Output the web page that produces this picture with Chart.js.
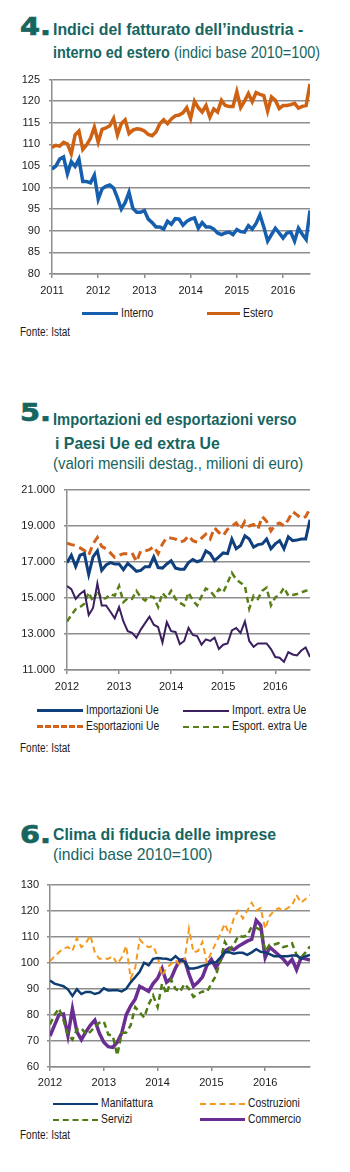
<!DOCTYPE html>
<html lang="it">
<head>
<meta charset="UTF-8">
<title>Congiuntura - grafici 4-6</title>
<script src="https://cdn.jsdelivr.net/npm/chart.js"></script>
<style>
  body { margin:0; width:350px; height:1172px; background:#fff; position:relative; overflow:hidden;
         font-family:"Liberation Sans",Arial,sans-serif; color:#1a1a1a; }
  .num { position:absolute; left:20px; font-family:"DejaVu Sans",sans-serif; font-weight:bold; font-size:24px;
         color:#17655f; transform:scaleX(1.2); transform-origin:0 0; -webkit-text-stroke:0.7px #17655f; }
  .tit { position:absolute; left:53px; font-size:17px; font-weight:bold; color:#17655f; white-space:nowrap;
         transform-origin:0 0; }
  .tit .reg { font-weight:normal; }
  canvas { position:absolute; left:0; }
  .leg { position:absolute; height:16px; line-height:16px; font-size:12.5px; white-space:nowrap; }
  .leg i { display:inline-block; vertical-align:middle; margin-right:3px; }
  .leg span { display:inline-block; transform:scaleX(0.83); transform-origin:0 50%; }
  .fonte { position:absolute; left:20px; font-size:12.5px; transform:scaleX(0.8); transform-origin:0 0; }
</style>
</head>
<body>
  <!-- 4 -->
  <div class="num" style="top:13px">4.</div>
  <div class="tit" data-w="250" style="top:20px">Indici del fatturato dell’industria -</div>
  <div class="tit" data-w="267" style="top:43px">interno ed estero <span class="reg">(indici base 2010=100)</span></div>
  <canvas id="c4" width="320" height="236" style="top:64px"></canvas>
  <div id="leg4"></div>
  <div class="fonte" style="top:325px">Fonte: Istat</div>

  <!-- 5 -->
  <div class="num" style="top:399px">5.</div>
  <div class="tit" data-w="244" style="top:410px">Importazioni ed esportazioni verso</div>
  <div class="tit" data-w="165" style="top:434px; left:55px">i Paesi Ue ed extra Ue</div>
  <div class="tit" data-w="250" style="top:454px"><span class="reg">(valori mensili destag., milioni di euro)</span></div>
  <canvas id="c5" width="320" height="222" style="top:474px"></canvas>
  <div id="leg5"></div>
  <div class="fonte" style="top:741px">Fonte: Istat</div>

  <!-- 6 -->
  <div class="num" style="top:821px">6.</div>
  <div class="tit" data-w="223" style="top:825px">Clima di fiducia delle imprese</div>
  <div class="tit" data-w="159" style="top:845px"><span class="reg">(indici base 2010=100)</span></div>
  <canvas id="c6" width="320" height="222" style="top:870px"></canvas>
  <div id="leg6"></div>
  <div class="fonte" style="top:1128px">Fonte: Istat</div>

<script>
// --- grafico 4: fatturato industria (mensile, gen 2011 - ago 2016)
const anni4 = ['2011', '2012', '2013', '2014', '2015', '2016'];
const interno = [104.3,105,106.6,107.1,103.2,106,104.9,106.6,101.4,101.4,101.1,102.9,
  97.3,99.7,100.3,100.6,99.9,97.6,95,96.5,98.9,95.2,94.3,94.3,
  94.7,92.7,91.9,90.9,90.9,90.4,92.2,91.5,92.8,92.7,91.3,92.2,
  92.7,93,90.6,91.9,90.9,90.9,90.4,89.5,89.1,89.5,89.7,89.1,
  90.3,89.8,89.7,91.2,90.4,91.7,93.7,90.9,87.6,89.1,90.6,89.5,
  88.3,89.5,89.7,87.6,90.6,89.2,88,94.7];
const estero = [109.3,109.8,109.6,110.5,110.1,107.8,112.2,113.1,108.8,109.9,111.4,114,
  110.5,113.5,113.8,114.3,116,112.2,114.8,115.7,112.5,113.3,113.6,113.5,
  113.1,112.3,112,112.9,114.8,115.7,114.8,115.9,116.6,116.8,117.3,118.5,
  116,120,118.5,117.5,119,116.3,118.2,117.5,120.2,119,118.8,118.8,
  122.2,118.5,120,121.8,119.9,122,121.6,121.3,117.7,121,120.2,118.3,
  119,119,119.2,119.5,118.4,118.8,119,124];

// --- grafico 5: scambi Ue / extra Ue (gen 2012 - set 2016)
const anni5 = ['2012', '2013', '2014', '2015', '2016'];
const importUe = [16950,17360,16730,17360,17450,16290,17270,17600,16520,16820,16950,16880,
  16880,16560,16910,16700,16470,16520,16730,16730,17270,16680,16650,16880,
  17060,16650,16590,16590,16950,17130,17000,17090,17600,17450,17060,17270,
  17490,17450,18260,17720,17900,18440,18260,17810,17950,17990,18260,17720,
  17990,18170,17720,18380,18170,18200,18260,18260,19330];
const exportUe = [18030,17950,17900,17770,17630,17360,17990,18350,17850,17720,17490,17240,
  17360,17450,17450,17490,17000,17600,17600,17670,17850,17450,17990,18350,
  18310,18260,18080,18170,18440,18170,18080,18310,18530,18260,18890,18620,
  18440,18800,18980,19150,18800,19240,18980,19060,18800,19510,19240,18710,
  19060,19150,18980,19330,19780,19600,19400,19500,19950];
const importExtra = [15660,15480,14940,15210,15390,14050,14440,15800,14580,14580,14230,13870,
  14490,13690,13150,13060,12790,13240,13600,13960,13510,13370,12520,13650,
  13150,13110,12430,12610,13330,12940,12880,12400,12700,12610,12790,12160,
  12400,12470,13190,13330,13060,13690,12610,12290,12470,12470,12470,12160,
  11720,11680,11450,11990,11860,11810,12080,12250,11720];
const exportExtra = [13690,14050,14370,14490,14670,15300,14800,15390,14940,14980,15210,15120,
  15660,14760,14980,14940,15390,15030,14850,15090,15030,14490,15270,14980,
  15390,14940,14730,14580,15300,14850,14580,15090,15520,15390,15090,15480,
  15300,15840,16380,16020,15840,15660,14400,15120,14940,15390,15570,14580,
  15030,15160,15570,15120,15160,15210,15300,15390,15440];

// --- grafico 6: clima di fiducia (gen 2012 - nov 2016)
const anni6 = ['2012', '2013', '2014', '2015', '2016'];
const manifattura = [93.2,92,91.5,91,89.8,87.3,89.8,88,88.8,88.8,88,88.5,
  90.2,89.4,89.5,89.5,89,90,92.5,94.5,96.5,100,99,101.5,
  101.8,101.6,101.5,101,102.5,101,100.5,97.8,97.8,98.2,98.8,99.3,
  100,100.2,102,104,104,103.5,103.8,103.8,103,104,105.2,104.2,
  104,103.3,102.5,102.5,102.5,102.5,102.8,102.8,101.5,102.5,103];
const costruzioni = [100.5,102.5,104,105.5,106,104.5,109.5,106,107.5,110.5,104,101.5,
  101.5,101.5,102.5,99.5,102,106.5,94,98,109,107,106,106.5,
  102.5,95,98,99.5,101,99,101,113,104,104.5,108,100,
  104,107.5,111,115,111,117,120,117,120,123,120,121,
  113,118,120,121,120,121,122,126,123,124.5,126];
const servizi = [76.3,80,82.5,78,72.5,70.5,74.4,75,72.5,73.5,75.5,77,
  77.5,72.5,72,64.5,73,73.2,76,83,81,79,84,87.5,
  83,92,88,93.5,90,88.8,91.9,90,86.9,88,89,88.8,
  92,95,101,108,105,107,110.3,110,110.5,113.8,113.5,112.5,
  104.4,106.9,107,107.5,106,106.5,107.5,103,102,104,106.3];
const commercio = [71.9,76,80,80.3,72,82.3,73.5,70.5,73.5,76,78,73,
  69.5,67.8,67.5,69.5,73,80,83.5,86,91,90,89,92,
  94,97.8,92.5,94,98,101,101.3,95.6,91,92.5,94.5,99,
  101.3,98.1,101,104.4,105.6,105,106.3,107.3,108.3,109,116.3,114.4,
  102,106,104.5,103,101.5,99.4,101.3,97.3,101.9,101.5,101];

Chart.defaults.font.family = '"Liberation Sans", Arial, sans-serif';
Chart.defaults.font.size = 11;
Chart.defaults.color = '#1a1a1a';

const GRID = '#8e8e8e';

// titoli: stringo il testo alla larghezza del carattere "narrow" originale
document.querySelectorAll('.tit[data-w]').forEach(el => {
  el.style.transform = 'scaleX(' + (el.dataset.w / el.offsetWidth) + ')';
});

function fmtMigliaia(v) {
  return Math.floor(v / 1000) + '.' + String(v % 1000).padStart(3, '0');
}

function disegna(id, serie, anni, s) {
  const n = serie[0].data.length;
  new Chart(document.getElementById(id), {
    type: 'line',
    data: {
      datasets: serie.map(d => ({
        label: d.label,
        data: d.data.map((v, i) => ({ x: i, y: v })),
        borderColor: d.color,
        borderWidth: d.width,
        borderDash: d.dash || [],
        pointRadius: 0,
        tension: 0,
        fill: false
      }))
    },
    options: {
      responsive: false,
      animation: false,
      devicePixelRatio: 1,
      layout: { padding: { top: 10, right: 10, left: 0, bottom: 0 }, autoPadding: false },
      plugins: { legend: { display: false }, tooltip: { enabled: false } },
      scales: {
        x: {
          type: 'linear', min: 0, max: n - 1,
          afterBuildTicks: sc => { sc.ticks = sc.ticks.filter(t => t.value % 12 === 0); },
          afterFit: sc => { sc.height = s.xh; },
          grid: { drawOnChartArea: false, tickLength: 4, color: GRID, lineWidth: 1.5 },
          border: { color: GRID, width: 1.5 },
          ticks: { stepSize: 12, autoSkip: false, maxRotation: 0, padding: s.xpad,
                   callback: v => anni[v / 12] }
        },
        y: {
          min: s.min, max: s.max,
          afterFit: sc => { sc.width = s.yw; },
          grid: { color: GRID, lineWidth: 1.5, tickLength: 3 },
          border: { color: GRID, width: 1.5 },
          ticks: { stepSize: s.step, padding: s.ypad, callback: s.fmt || (v => v) }
        }
      }
    }
  });
}

function legenda(boxId, items) {
  const box = document.getElementById(boxId);
  items.forEach(it => {
    const d = document.createElement('div');
    d.className = 'leg';
    d.style.left = it.x + 'px';
    d.style.top = (it.y - 8) + 'px';
    const line = document.createElement('i');
    line.style.width = it.w + 'px';
    line.style.borderTop = it.lw + 'px ' + (it.dash ? 'dashed ' : 'solid ') + it.color;
    const txt = document.createElement('span');
    txt.textContent = it.label;
    d.appendChild(line);
    d.appendChild(txt);
    box.appendChild(d);
  });
}

// 4
const s4 = [
  { label: 'Interno', data: interno, color: '#165fae', width: 3.5 },
  { label: 'Estero', data: estero, color: '#cf6113', width: 3.5 }
];
disegna('c4', s4, anni4, { min: 80, max: 125, step: 5, yw: 52, xh: 26, xpad: 6, ypad: 9 });
legenda('leg4', [
  { x: 82, y: 313, w: 36, lw: 3.5, color: s4[0].color, label: s4[0].label },
  { x: 207, y: 313, w: 33, lw: 3.5, color: s4[1].color, label: s4[1].label }
]);

// 5
const s5 = [
  { label: 'Importazioni Ue', data: importUe, color: '#0f3f7c', width: 3 },
  { label: 'Import. extra Ue', data: importExtra, color: '#3b1f5e', width: 2 },
  { label: 'Esportazioni Ue', data: exportUe, color: '#d2611a', width: 3, dash: [8, 5] },
  { label: 'Esport. extra Ue', data: exportExtra, color: '#5b7f17', width: 2.5, dash: [6, 4] }
];
disegna('c5', s5, anni5, { min: 11000, max: 21000, step: 2000, yw: 67, xh: 26, xpad: 6, ypad: 9, fmt: fmtMigliaia });
legenda('leg5', [
  { x: 37, y: 710, w: 46, lw: 3, color: s5[0].color, label: s5[0].label },
  { x: 183, y: 710, w: 46, lw: 2, color: s5[1].color, label: s5[1].label },
  { x: 37, y: 726, w: 46, lw: 3, color: s5[2].color, label: s5[2].label, dash: true },
  { x: 183, y: 726, w: 46, lw: 2.5, color: s5[3].color, label: s5[3].label, dash: true }
]);

// 6
const s6 = [
  { label: 'Manifattura', data: manifattura, color: '#0e3d73', width: 2.5 },
  { label: 'Costruzioni', data: costruzioni, color: '#f39a1e', width: 2, dash: [6, 4] },
  { label: 'Servizi', data: servizi, color: '#4f7b14', width: 2.5, dash: [6, 4] },
  { label: 'Commercio', data: commercio, color: '#6a2e92', width: 3.5 }
];
disegna('c6', s6, anni6, { min: 60, max: 130, step: 10, yw: 50, xh: 25, xpad: 5, ypad: 8 });
legenda('leg6', [
  { x: 53, y: 1103, w: 45, lw: 2.5, color: s6[0].color, label: s6[0].label },
  { x: 200, y: 1103, w: 45, lw: 2, color: s6[1].color, label: s6[1].label, dash: true },
  { x: 53, y: 1119, w: 45, lw: 2.5, color: s6[2].color, label: s6[2].label, dash: true },
  { x: 200, y: 1119, w: 45, lw: 3.5, color: s6[3].color, label: s6[3].label }
]);
</script>
</body>
</html>
